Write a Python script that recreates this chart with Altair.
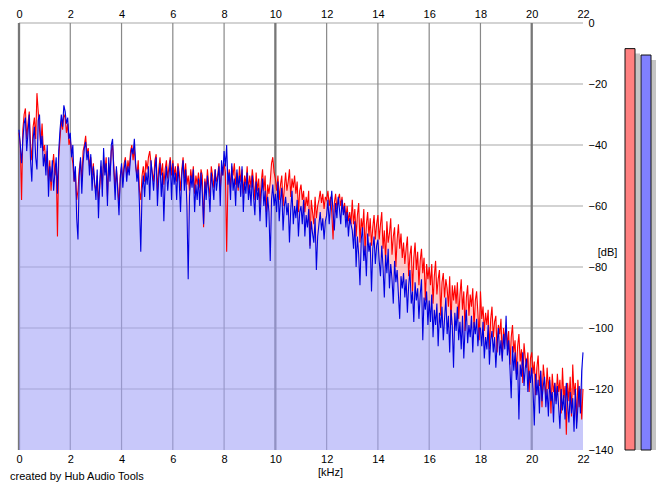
import altair as alt
import pandas as pd

# ---------------- data ----------------
STEP_KHZ = 0.05

blue_rows = [
    [-35,-40,-46,-38,-33,-31,-42,-36,-30,-45,-52,-38,-34,-44,-48,-32,-30,-41,-37,-47],
    [-43,-50,-40,-57,-47,-52,-45,-55,-49,-44,-56,-42,-35,-30,-34,-27,-29,-33,-31,-38],
    [-36,-44,-40,-52,-47,-64,-71,-50,-44,-56,-46,-41,-39,-45,-42,-50,-43,-55,-47,-52],
    [-58,-48,-64,-52,-45,-57,-41,-50,-46,-60,-44,-52,-40,-38,-49,-58,-47,-55,-63,-51],
    [-46,-54,-48,-45,-52,-47,-50,-44,-41,-43,-38,-46,-52,-48,-60,-75,-55,-50,-57,-49],
    [-53,-47,-58,-45,-50,-55,-48,-44,-60,-51,-46,-57,-49,-65,-52,-47,-55,-50,-45,-58],
    [-46,-53,-49,-58,-47,-52,-62,-50,-45,-55,-48,-60,-84,-57,-50,-54,-48,-62,-53,-58],
    [-51,-60,-49,-56,-66,-52,-58,-50,-55,-62,-49,-53,-58,-48,-55,-51,-47,-60,-45,-50],
    [-42,-47,-40,-53,-49,-58,-46,-55,-51,-60,-48,-54,-50,-57,-47,-62,-52,-56,-49,-58],
    [-53,-60,-50,-57,-63,-52,-58,-54,-65,-56,-51,-60,-55,-67,-57,-62,-78,-58,-53,-60],
    [-56,-62,-52,-65,-58,-54,-68,-60,-57,-63,-59,-72,-61,-55,-66,-60,-64,-58,-70,-62],
    [-60,-66,-58,-70,-63,-67,-61,-74,-65,-69,-72,-64,-81,-70,-66,-62,-68,-64,-71,-65],
    [-63,-58,-66,-60,-55,-62,-68,-59,-64,-57,-61,-66,-58,-63,-60,-67,-62,-70,-64,-66],
    [-68,-74,-65,-80,-70,-76,-86,-71,-67,-78,-73,-83,-69,-75,-72,-88,-74,-70,-79,-73],
    [-71,-78,-83,-73,-80,-90,-76,-82,-74,-87,-79,-84,-92,-78,-85,-81,-89,-97,-83,-87],
    [-82,-90,-84,-95,-86,-81,-92,-88,-98,-85,-91,-87,-97,-89,-84,-104,-90,-94,-88,-99],
    [-91,-98,-89,-103,-94,-99,-92,-106,-95,-100,-93,-104,-97,-90,-102,-96,-108,-94,-99,-113],
    [-95,-101,-93,-104,-98,-107,-96,-110,-100,-94,-105,-99,-103,-96,-108,-98,-102,-97,-106,-100],
    [-100,-106,-98,-110,-103,-107,-99,-112,-104,-101,-108,-103,-113,-105,-100,-109,-104,-111,-102,-107],
    [-96,-109,-104,-113,-123,-106,-114,-108,-117,-111,-130,-112,-116,-108,-119,-113,-110,-121,-114,-118],
    [-113,-120,-132,-115,-122,-117,-128,-114,-124,-119,-116,-126,-120,-129,-117,-124,-121,-131,-118,-125],
    [-119,-126,-133,-120,-127,-122,-130,-118,-125,-131,-121,-128,-123,-134,-120,-133,-126,-119,-128,-114],
]
blue_last = [-108]

red_rows = [
    [-36,-40,-58,-35,-30,-28,-38,-33,-29,-40,-45,-34,-31,-38,-23,-29,-35,-40,-33,-42],
    [-40,-47,-42,-52,-45,-55,-48,-43,-50,-46,-70,-44,-38,-32,-35,-30,-31,-36,-33,-40],
    [-38,-43,-46,-52,-49,-58,-55,-48,-45,-52,-42,-40,-37,-43,-41,-47,-44,-50,-46,-53],
    [-55,-50,-58,-54,-47,-53,-45,-49,-44,-57,-46,-50,-42,-40,-47,-54,-48,-53,-60,-50],
    [-47,-52,-46,-44,-50,-45,-48,-42,-40,-45,-41,-47,-50,-45,-55,-58,-50,-47,-52,-45],
    [-48,-44,-42,-46,-49,-52,-45,-43,-55,-48,-44,-50,-46,-53,-48,-45,-51,-47,-44,-50],
    [-45,-50,-47,-52,-46,-49,-55,-48,-44,-51,-46,-53,-50,-55,-48,-52,-47,-56,-50,-53],
    [-49,-54,-48,-50,-67,-51,-55,-48,-53,-57,-47,-50,-54,-48,-52,-50,-46,-55,-48,-50],
    [-46,-49,-75,-52,-48,-54,-47,-50,-46,-53,-49,-55,-47,-52,-48,-56,-50,-53,-47,-55],
    [-50,-54,-48,-52,-58,-49,-55,-51,-60,-52,-48,-55,-50,-62,-53,-56,-52,-46,-44,-49],
    [-51,-55,-50,-58,-53,-50,-60,-54,-49,-55,-52,-48,-57,-51,-54,-50,-56,-52,-62,-55],
    [-53,-58,-55,-62,-57,-60,-55,-73,-58,-62,-66,-57,-64,-60,-58,-55,-59,-56,-61,-57],
    [-58,-55,-60,-57,-62,-71,-59,-56,-61,-58,-56,-60,-57,-62,-59,-64,-60,-65,-62,-66],
    [-58,-66,-61,-70,-63,-59,-72,-64,-68,-61,-75,-66,-62,-70,-64,-73,-67,-63,-71,-66],
    [-63,-71,-66,-62,-74,-68,-78,-65,-72,-69,-64,-76,-70,-67,-80,-71,-66,-74,-69,-77],
    [-72,-79,-74,-70,-83,-76,-73,-88,-77,-72,-81,-75,-86,-78,-74,-82,-77,-91,-79,-84],
    [-80,-86,-79,-92,-83,-78,-89,-84,-81,-96,-85,-82,-90,-84,-87,-93,-83,-99,-86,-91],
    [-86,-92,-85,-97,-89,-84,-94,-88,-101,-90,-86,-96,-89,-93,-87,-100,-91,-88,-95,-104],
    [-88,-97,-93,-101,-95,-99,-94,-107,-97,-93,-103,-98,-96,-108,-99,-102,-97,-110,-100,-104],
    [-99,-106,-101,-112,-103,-99,-108,-104,-115,-106,-102,-111,-107,-118,-105,-110,-113,-108,-121,-110],
    [-108,-115,-111,-122,-113,-109,-119,-114,-126,-112,-117,-123,-113,-120,-116,-128,-115,-121,-118,-124],
    [-115,-121,-117,-128,-113,-123,-119,-135,-118,-124,-116,-129,-112,-122,-118,-131,-117,-126,-120,-130],
]
red_last = [-120]

x_ticks = [0, 2, 4, 6, 8, 10, 12, 14, 16, 18, 20, 22]
x_grid_minor = [2, 4, 6, 8, 12, 14, 16, 18]
x_grid_major = [0, 10, 20]
y_ticks = [0, -20, -40, -60, -80, -100, -120, -140]
y_grid = [0, -20, -40, -60, -80, -100, -120]

meter_channels = ["L", "R"]
meter_levels = [-8.4, -10.5]
meter_colors = ["#ff8080", "#8080ff"]

# ---------------- build table ----------------
blue = [v for row in blue_rows for v in row] + blue_last
red = [v for row in red_rows for v in row] + red_last
freq = [round(i * STEP_KHZ, 2) for i in range(len(blue))]
df = pd.DataFrame({"f": freq, "red": red, "blue": blue})

FONT = "Liberation Sans"
xscale = alt.Scale(domain=[0, 22], nice=False, zero=False)
yscale = alt.Scale(domain=[-140, 0], nice=False, zero=False)
FILL_OPACITY = 0.6

base = alt.Chart(df)

hgrid = alt.Chart(pd.DataFrame({"v": y_grid})).mark_rule(
    color="#c4c4c4", strokeWidth=1.5
).encode(y=alt.Y("v:Q", scale=yscale, axis=None))

vgrid_minor = alt.Chart(pd.DataFrame({"v": x_grid_minor})).mark_rule(
    color="#888888", strokeWidth=1.2
).encode(x=alt.X("v:Q", scale=xscale, axis=None))

vgrid_major = alt.Chart(pd.DataFrame({"v": x_grid_major})).mark_rule(
    color="#777777", strokeWidth=2.3
).encode(x=alt.X("v:Q", scale=xscale, axis=None))

# pink band: where the red curve lies above the blue one
red_band = base.transform_calculate(
    red_top="max(datum.red, datum.blue)"
).mark_area(color="#ffa3a3", opacity=FILL_OPACITY).encode(
    x=alt.X("f:Q", scale=xscale, axis=alt.Axis(
        orient="bottom", values=x_ticks, format="d", title="[kHz]",
        titleX=311, titleY=16, titleBaseline="top", titleAlign="center",
        ticks=False, domain=False, grid=False, labelPadding=3,
        labelFlush=False, labelOverlap=False)),
    y=alt.Y("red_top:Q", scale=yscale, axis=alt.Axis(
        orient="right", values=y_ticks, title="[dB]", titleAngle=0,
        titleX=24, titleY=229, titleAlign="center", titleBaseline="middle",
        ticks=False, domain=False, grid=False, labelPadding=5,
        labelAlign="left", labelBaseline="middle", labelFlush=False,
        labelOverlap=False)),
    y2=alt.Y2("blue:Q"),
)

blue_area = base.mark_area(color="#a3a3f7", opacity=FILL_OPACITY).encode(
    x=alt.X("f:Q", scale=xscale, axis=alt.Axis(
        orient="top", values=x_ticks, format="d", title=None,
        ticks=False, domain=False, grid=False, labelPadding=4,
        labelFlush=False, labelOverlap=False)),
    y=alt.Y("blue:Q", scale=yscale, axis=None),
    y2=alt.datum(-140),
)

red_line = base.mark_line(color="#ff0000", strokeWidth=1.1).encode(
    x=alt.X("f:Q", scale=xscale, axis=None),
    y=alt.Y("red:Q", scale=yscale, axis=None),
)
blue_line = base.mark_line(color="#0000e0", strokeWidth=1.1).encode(
    x=alt.X("f:Q", scale=xscale, axis=None),
    y=alt.Y("blue:Q", scale=yscale, axis=None),
)

main = alt.layer(
    hgrid, vgrid_minor, vgrid_major, red_band, blue_area, red_line, blue_line
).resolve_axis(x="independent", y="independent").properties(
    width=564, height=427,
    title=alt.TitleParams(
        "created by Hub Audio Tools", orient="bottom", anchor="start",
        frame="group", dx=-9, dy=-6, offset=0, baseline="top",
        fontSize=11, fontWeight="normal", font=FONT, color="#000000"),
)

# ---------------- level meters ----------------
mdf = pd.DataFrame({"ch": meter_channels, "db": meter_levels})
mx = alt.X("ch:N", scale=alt.Scale(domain=meter_channels, paddingInner=0.375,
                                    paddingOuter=0.1875), axis=None)
my = alt.Y("db:Q", scale=yscale, axis=None)

shadow = alt.Chart(mdf).mark_bar(color="#c4c4c4", xOffset=5, yOffset=5).encode(
    x=mx, y=my, y2=alt.datum(-140))
bars = alt.Chart(mdf).mark_bar(stroke="#101010", strokeWidth=1).encode(
    x=mx, y=my, y2=alt.datum(-140),
    color=alt.Color("ch:N", scale=alt.Scale(domain=meter_channels, range=meter_colors),
                    legend=None))
meter = alt.layer(shadow, bars).properties(width=32, height=427)

chart = alt.hconcat(main, meter, spacing=39, bounds="flush").properties(
    padding={"left": 2, "top": 0, "right": 0, "bottom": 0},
    background="#ffffff",
).configure_view(stroke=None).configure_axis(
    labelFont=FONT, labelFontSize=11, labelColor="#000000",
    titleFont=FONT, titleFontSize=11, titleFontWeight="normal", titleColor="#000000",
)

chart.save("out.html", embed_options={"renderer": "svg", "actions": False})
